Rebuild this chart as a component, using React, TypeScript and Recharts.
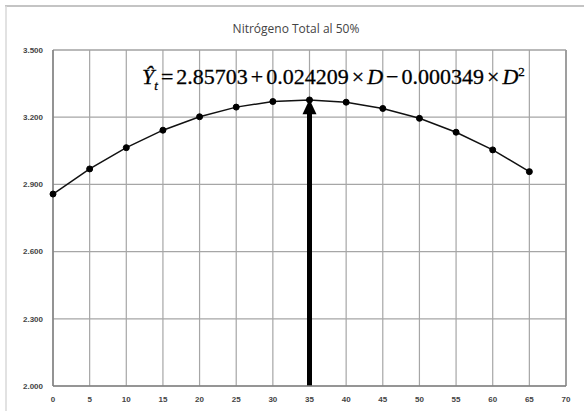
import { LineChart, Line, XAxis, YAxis, CartesianGrid, ReferenceLine } from 'recharts'

const doses = [0, 5, 10, 15, 20, 25, 30, 35, 40, 45, 50, 55, 60, 65]
const nitrogen = [2.857, 2.969, 3.064, 3.142, 3.202, 3.245, 3.27, 3.277, 3.267, 3.239, 3.195, 3.133, 3.054, 2.957]
const xTicks = [0, 5, 10, 15, 20, 25, 30, 35, 40, 45, 50, 55, 60, 65, 70]
const yTicks = [2.0, 2.3, 2.6, 2.9, 3.2, 3.5]
const arrowDose = 35
const arrowTop = 3.28

const data = doses.map((d, i) => ({ d, y: nitrogen[i] }))

const tickStyle = { fontSize: 8, fill: '#444', fontFamily: 'Liberation Sans, sans-serif', fontWeight: 600 }

function Arrow(props: any) {
  const { x1, y1, y2 } = props
  const bottom = Math.max(y1, y2)
  const top = Math.min(y1, y2)
  const x = x1
  return (
    <g>
      <line x1={x} y1={bottom} x2={x} y2={top + 12} stroke="#000" strokeWidth={5} />
      <polygon points={`${x - 7},${top + 15} ${x + 7},${top + 15} ${x},${top}`} fill="#000" />
    </g>
  )
}

const op = { margin: '0 3px' }

export default function App() {
  return (
    <div style={{ position: 'absolute', left: 0, top: 0, width: 584, height: 411, background: '#fff' }}>
      <svg width={584} height={411} style={{ position: 'absolute', left: 0, top: 0 }}>
        <line x1={5} y1={6} x2={584} y2={6} stroke="#c4c4c4" strokeWidth={2} />
        <line x1={6} y1={6} x2={6} y2={411} stroke="#d8d8d8" strokeWidth={1.5} />
        <text x={296} y={33} textAnchor="middle" fontFamily="Open Sans, sans-serif" fontSize={12} fill="#444">
          Nitrógeno Total al 50%
        </text>
      </svg>
      <div style={{ position: 'absolute', left: 0, top: 0 }}>
        <LineChart width={584} height={411} data={data} margin={{ top: 50, right: 18, bottom: 0, left: 0 }}>
          <CartesianGrid stroke="#a6a6a6" strokeWidth={1.2} />
          <XAxis
            dataKey="d"
            type="number"
            domain={[0, 70]}
            ticks={xTicks}
            height={25}
            tickSize={0}
            tickMargin={10}
            axisLine={{ stroke: '#808080', strokeWidth: 1.5 }}
            tick={tickStyle}
          />
          <YAxis
            type="number"
            domain={[2, 3.5]}
            ticks={yTicks}
            width={53}
            tickSize={0}
            tickMargin={10}
            axisLine={{ stroke: '#808080', strokeWidth: 1.5 }}
            tick={tickStyle}
            tickFormatter={(v: number) => v.toFixed(3)}
          />
          <ReferenceLine segment={[{ x: 70, y: 2 }, { x: 70, y: 3.5 }]} stroke="#909090" strokeWidth={1.5} />
          <ReferenceLine segment={[{ x: 0, y: 3.5 }, { x: 70, y: 3.5 }]} stroke="#a0a0a0" strokeWidth={1.2} />
          <ReferenceLine
            segment={[{ x: arrowDose, y: 2 }, { x: arrowDose, y: arrowTop }]}
            shape={Arrow}
          />
          <Line
            dataKey="y"
            stroke="#111"
            strokeWidth={1.5}
            dot={{ r: 3, fill: '#000', stroke: '#000', strokeWidth: 1 }}
            isAnimationActive={false}
          />
        </LineChart>
      </div>
      <div
        style={{
          position: 'absolute', left: 142, top: 64, whiteSpace: 'nowrap',
          fontFamily: 'Liberation Serif, serif', fontSize: 22, color: '#000',
          WebkitTextStroke: '0.3px #000',
        }}
      >
        <i>Ŷ</i><sub style={{ fontSize: 13 }}><i>t</i></sub>
        <span style={op}>=</span>2.85703<span style={op}>+</span>0.024209<span style={op}>×</span><i>D</i>
        <span style={op}>−</span>0.000349<span style={op}>×</span><i>D</i><sup style={{ fontSize: 13 }}>2</sup>
      </div>
    </div>
  )
}
